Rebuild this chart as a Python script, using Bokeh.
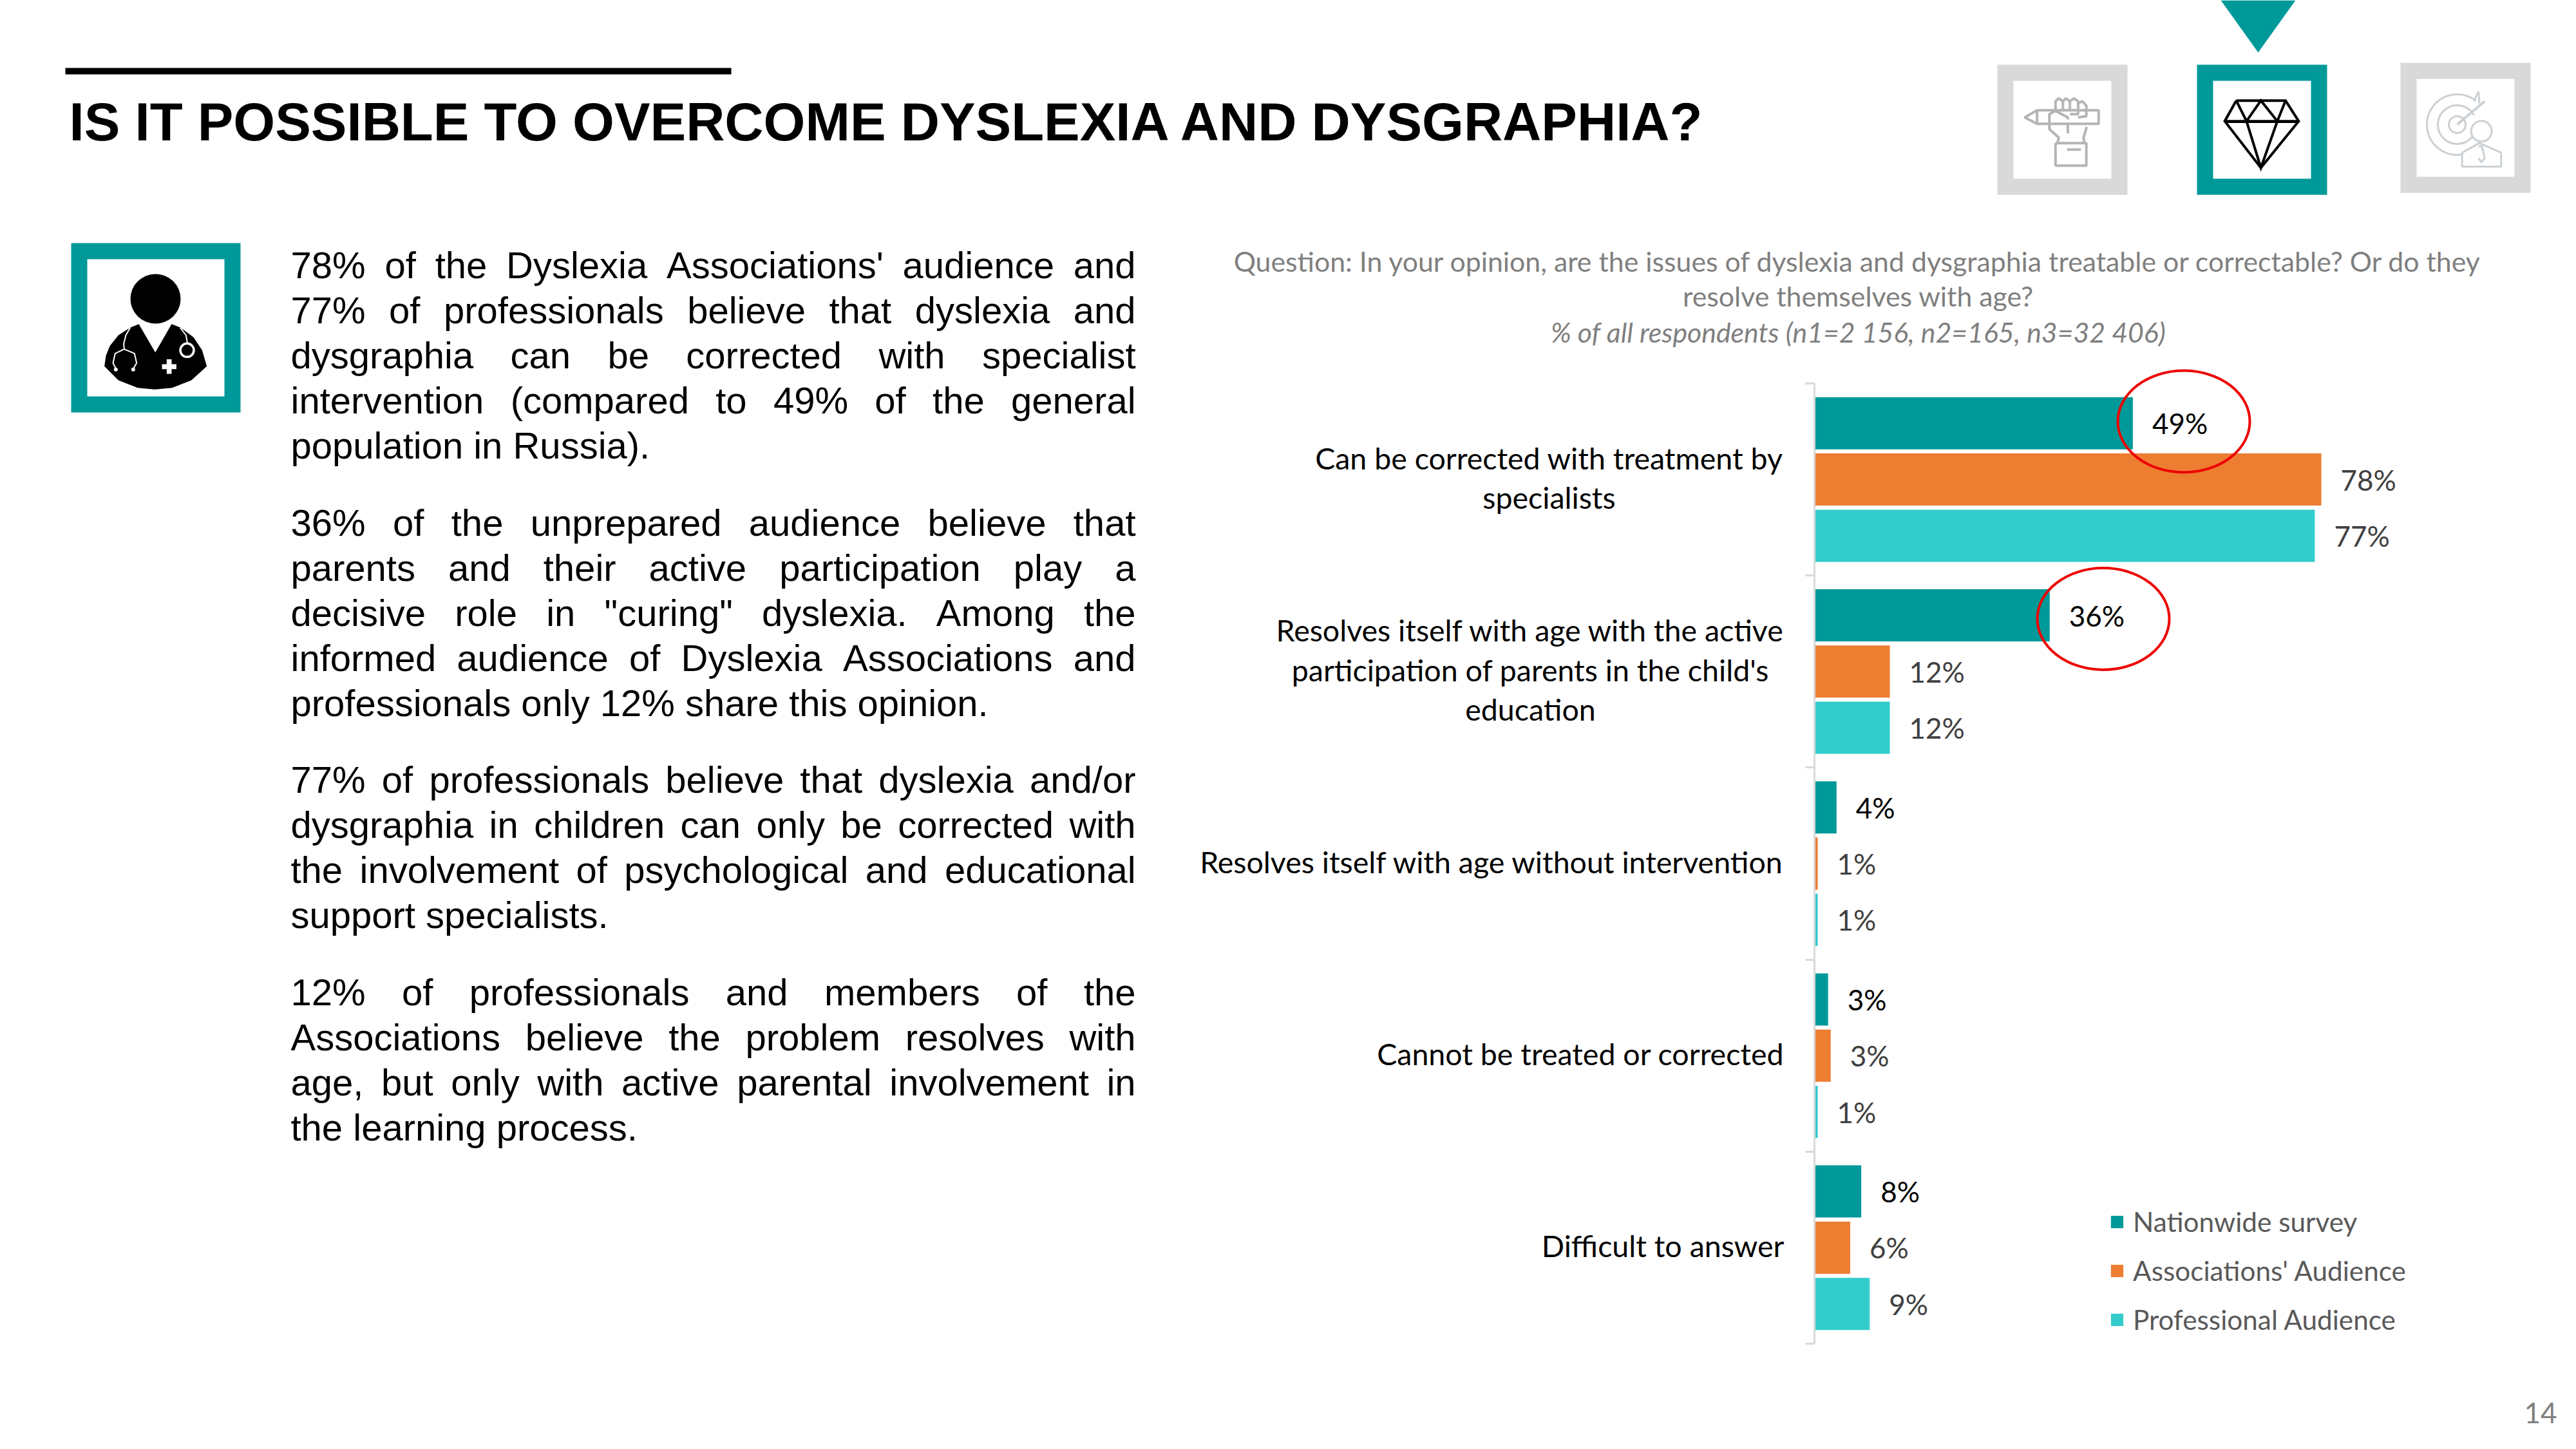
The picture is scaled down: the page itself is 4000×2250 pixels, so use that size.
from bokeh.plotting import figure
from bokeh.models import (Range1d, LinearAxis, FixedTicker, Legend, LegendItem, ColumnDataSource)
from bokeh.core.properties import value
from bokeh.embed import file_html
from bokeh.resources import INLINE
import numpy as np

# ------------------ data ------------------
categories = ["Can be corrected with treatment by\nspecialists",
              "Resolves itself with age with the active\nparticipation of parents in the child's\neducation",
              "Resolves itself with age without intervention",
              "Cannot be treated or corrected",
              "Difficult to answer"]
series_names = ["Nationwide survey", "Associations' Audience", "Professional Audience"]
nationwide = [49, 36.2, 3.4, 2.1, 7.2]
associations = [78, 11.6, 0.5, 2.5, 5.5]
professional = [77, 11.6, 0.5, 0.5, 8.5]
nationwide_labels = ["49%", "36%", "4%", "3%", "8%"]
associations_labels = ["78%", "12%", "1%", "3%", "6%"]
professional_labels = ["77%", "12%", "1%", "1%", "9%"]
title_text = "IS IT POSSIBLE TO OVERCOME DYSLEXIA AND DYSGRAPHIA?"
question_lines = ["Question: In your opinion, are the issues of dyslexia and dysgraphia treatable or correctable? Or do they",
                  "resolve themselves with age?"]
base_line = "% of all respondents (n1=2 156, n2=165, n3=32 406)"
paragraphs = [
    ["78% of the Dyslexia Associations' audience and",
     "77% of professionals believe that dyslexia and",
     "dysgraphia can be corrected with specialist",
     "intervention (compared to 49% of the general",
     "population in Russia)."],
    ["36% of the unprepared audience believe that",
     "parents and their active participation play a",
     "decisive role in \"curing\" dyslexia. Among the",
     "informed audience of Dyslexia Associations and",
     "professionals only 12% share this opinion."],
    ["77% of professionals believe that dyslexia and/or",
     "dysgraphia in children can only be corrected with",
     "the involvement of psychological and educational",
     "support specialists."],
    ["12% of professionals and members of the",
     "Associations believe the problem resolves with",
     "age, but only with active parental involvement in",
     "the learning process."],
]

TEAL, ORANGE, CYAN = "#009999", "#ED7D31", "#33CCCC"
GREY = "#D9D9D9"
W, H = 4000, 2250
OX, OY = 0, 0
PCT = 10.09          # px per percent
X0 = 2817            # px of 0 %
CAT = 298.2          # px per category
Y0 = 595             # px of the top of the axis

p = figure(width=W, height=H, output_backend="svg", toolbar_location=None,
           x_axis_type=None, y_axis_type=None,
           x_range=Range1d((OX - X0) / PCT, (OX + W - X0) / PCT),
           y_range=Range1d((OY + H - Y0) / CAT, (OY - Y0) / CAT),
           min_border=0, min_border_left=0, min_border_right=0, min_border_top=0, min_border_bottom=0,
           outline_line_color=None, background_fill_color="white", border_fill_color="white")
p.grid.visible = False
p.extra_x_ranges["px"] = Range1d(OX, OX + W)
p.extra_y_ranges["py"] = Range1d(OY + H, OY)

PX = dict(x_range_name="px", y_range_name="py")

# ---- value axis spine/ticks
axis = LinearAxis(ticker=FixedTicker(ticks=list(range(len(categories) + 1))),
                  fixed_location=0, bounds=(0, len(categories)),
                  axis_line_color=GREY, axis_line_width=3,
                  major_tick_line_color=GREY, major_tick_line_width=3,
                  major_tick_in=0, major_tick_out=14, minor_tick_line_color=None,
                  major_label_overrides={i: "" for i in range(len(categories) + 1)},
                  major_label_text_font_size="1px")
p.add_layout(axis, "left")

# ---- bars
y_center = np.arange(len(categories)) + 0.5
step = 87.3 / CAT
bar_h = 81 / CAT
renderers = []
for vals, labs, col, off, tcol in [(nationwide, nationwide_labels, TEAL, -step, "#000000"),
                                   (associations, associations_labels, ORANGE, 0, "#404040"),
                                   (professional, professional_labels, CYAN, step, "#404040")]:
    src = ColumnDataSource(dict(v=vals, y=list(y_center + off), t=labs))
    r = p.hbar(y="y", right="v", left=0, height=bar_h, source=src, fill_color=col, line_color=None)
    renderers.append(r)
    p.text(x="v", y="y", text="t", source=src, x_offset=30, text_baseline="middle",
           text_font=value("Lato"), text_font_size=value("44px"), text_color=tcol)

# ---- category labels
for i, c in enumerate(categories):
    n = c.count("\n")
    if n:
        px = {0: 2405, 1: 2376}[i]
        p.text(x=[px], y=[y_center[i]], text=[c], x_range_name="px", text_align="center", text_baseline="middle",
               y_offset=-3, text_font=value("Lato"), text_font_size=value("46.5px"), text_color="#000000",
               text_line_height=1.10)
    else:
        p.text(x=[2770], y=[y_center[i]], text=[c], x_range_name="px", text_align="right", text_baseline="middle",
               y_offset=-3, text_font=value("Lato"), text_font_size=value("46.5px"), text_color="#000000")

# ---- legend
legend = Legend(items=[LegendItem(label=n, renderers=[r]) for n, r in zip(series_names, renderers)],
                location=(3275 - OX, 176), orientation="vertical",
                background_fill_alpha=0, border_line_color=None,
                padding=0, margin=0, spacing=25, glyph_width=24, glyph_height=24, label_standoff=13,
                label_text_font="Lato", label_text_font_size="42.3px", label_text_color="#595959",
                label_height=48)
p.add_layout(legend)

# ---- red highlight ellipses
p.ellipse(x=[3390.5, 3265.5], y=[654, 960.5], width=[205, 205], height=[158, 158],
          fill_color=None, line_color="#EE0000", line_width=4, **PX)

# ---- title, rule
p.quad(left=[101], right=[1135], top=[105], bottom=[115], fill_color="black", line_color=None, **PX)
p.text(x=[107], y=[189], text=[title_text], text_font=value("Liberation Sans"), text_font_style="bold",
       text_font_size=value("83.4px"), text_color="#000000", text_baseline="middle", **PX)

# ---- question
for t, y, st in [(question_lines[0], 405, "normal"), (question_lines[1], 459, "normal"), (base_line, 515, "italic")]:
    p.text(x=[2885], y=[y], text=[t], text_font=value("Lato"), text_font_style=st, text_font_size=value("42.8px"),
           text_color="#7F7F7F", text_align="center", text_baseline="middle", **PX)

# ---- justified body text, word by word
AW = dict(zip("abcdefghijklmnopqrstuvwxyz",
              [556,556,500,556,556,278,556,556,222,222,500,222,833,556,556,556,556,333,500,278,556,500,722,500,500,500]))
AW.update(zip("ABCDEFGHIJKLMNOPQRSTUVWXYZ",
              [667,667,722,722,667,611,778,722,278,500,667,556,833,722,778,667,778,722,667,611,722,667,944,667,667,611]))
AW.update({d: 556 for d in "0123456789"})
AW.update({" ": 278, "%": 889, ".": 278, ",": 278, "(": 333, ")": 333, "'": 191, '"': 355, "/": 278, "-": 333})
FS = 58
LEFT, RIGHT = 451, 1763
def w(s):
    return sum(AW.get(ch, 556) for ch in s) * FS / 1000
base = 411
wx, wy, wt = [], [], []
for para in paragraphs:
    for k, line in enumerate(para):
        words = line.split(" ")
        total = sum(w(x) for x in words)
        gap = (RIGHT - LEFT - total) / (len(words) - 1) if k < len(para) - 1 else w(" ")
        x = LEFT
        for word in words:
            wx.append(x); wy.append(base); wt.append(word)
            x += w(word) + gap
        base += 70
    base += 49.5
p.text(x=wx, y=wy, text=wt, text_font=value("Liberation Sans"), text_font_size=value(f"{FS}px"),
       text_color="#000000", text_baseline="middle", **PX)

# ---- page number
p.text(x=[3970], y=[2193], text=["14"], text_font=value("Lato"), text_font_size=value("44px"),
       text_color="#7F7F7F", text_align="right", text_baseline="middle", **PX)

# ---- frames
def frame(x0, y0, x1, y1, ix0, iy0, ix1, iy1, col):
    p.quad(left=[x0], right=[x1], top=[y0], bottom=[y1], fill_color=col, line_color=None, **PX)
    p.quad(left=[ix0], right=[ix1], top=[iy0], bottom=[iy1], fill_color="white", line_color=None, **PX)

frame(110, 377, 373, 640, 135, 402, 348, 615, TEAL)
frame(3101, 100, 3303, 302, 3126, 125, 3278, 277, GREY)
frame(3411, 100, 3613, 302, 3436, 125, 3588, 277, TEAL)
frame(3727, 97, 3929, 299, 3752, 122, 3904, 274, GREY)
# selector triangle
p.patch(x=[3448, 3564, 3506], y=[0, 0, 81], fill_color=TEAL, line_color=None, **PX)

# ---- doctor icon (coordinates of a 3x crop at 80,360)
def dx(v): return [80 + a / 3 for a in v]
def dy(v): return [360 + a / 3 for a in v]
p.ellipse(x=[241], y=[463.5], width=[78], height=[77], fill_color="black", line_color=None, **PX)
bx = [245,252,270,310,365,405,482,558,600,660,700,722,650,560,480,400,310]
by = [625,575,530,480,445,428,560,428,445,490,550,625,690,725,733,725,690]
p.patch(x=dx(bx), y=dy(by), fill_color="black", line_color=None, **PX)
st_x = [365,345,335,337]; st_y = [445,480,520,545]
p.line(x=dx(st_x), y=dy(st_y), line_color="white", line_width=2, **PX)
hx = [298,285,295,337,385,395,380]; hy = [635,610,565,545,565,610,635]
p.line(x=dx(hx), y=dy(hy), line_color="white", line_width=2, **PX)
p.circle(x=dx([298,379]), y=dy([640,640]), radius=3, fill_color="white", line_color=None, **PX)
p.line(x=dx([598,625,632]), y=dy([445,480,520]), line_color="white", line_width=2, **PX)
p.ellipse(x=dx([630]), y=dy([550]), width=[21], height=[21], fill_color=None, line_color="white", line_width=3.5, **PX)
p.quad(left=dx([535]), right=dx([558]), top=dy([592]), bottom=dy([660]), fill_color="white", line_color=None, **PX)
p.quad(left=dx([513]), right=dx([580]), top=dy([615]), bottom=dy([638]), fill_color="white", line_color=None, **PX)

# ---- crop coordinates of the top-right icons
def ix(v): return [3000 + a / 1.568 for a in v]
def iy(v): return [a / 3 for a in v]
# diamond
gems = [([740,860,892,800,712,740],[467,467,563,780,563,467]),
        ([712,892],[563,563]),
        ([740,765,800,840,860],[467,563,467,563,467]),
        ([765,800,840],[563,780,563])]
for a, b in gems:
    p.line(x=ix(a), y=iy(b), line_color="black", line_width=4, line_join="miter", **PX)
p.line(x=ix([712,892]), y=iy([567,567]), line_color="black", line_width=3, **PX)

# fist
FC = "#B5B5B5"
lines = [([255,225,255,405,405,255,255],[512,545,575,575,512,512,575]),
         ([300,300,308,318,318],[515,470,457,470,515]),
         ([318,325,335,335],[470,457,470,515]),
         ([335,345,355,355,335],[470,457,470,530,530]),
         ([355,365,375,375,355],[480,470,490,540,545]),
         ([285,285,300,330,330],[570,530,515,545,555]),
         ([285,285,308,305],[570,600,640,660]),
         ([330,330],[570,620]),
         ([376,368,370],[590,640,660]),
         ([300,375,375,300,300],[665,665,770,770,665]),
         ([328,362],[695,695])]
for a, b in lines:
    p.line(x=ix(a), y=iy(b), line_color=FC, line_width=4, **PX)

# target person
TC = "#CBD0D4"
for r, s, e in [(13, 0, 2*np.pi), (30, 0.5, 5.6), (47, 0.9, 5.6)]:
    p.arc(x=[3815], y=[193], radius=r, start_angle=s, end_angle=e, line_color=TC, line_width=3, **PX)
p.line(x=ix([1278,1345]), y=iy([578,470]), line_color=TC, line_width=4, **PX)
p.line(x=ix([1318,1330,1332]), y=iy([470,425,480]), line_color=TC, line_width=3, **PX)
p.patch(x=ix([1290,1290,1332,1385,1385]), y=iy([775,710,665,710,775]), fill_color="white", line_color=TC, line_width=3, **PX)
p.ellipse(x=ix([1337]), y=iy([610]), width=[32], height=[32], fill_color="white", line_color=TC, line_width=3, **PX)
p.line(x=ix([1330,1338,1345,1337,1330]), y=iy([680,680,735,755,735]), line_color=TC, line_width=3, **PX)

open("out.html", "w").write(file_html(p, INLINE))
